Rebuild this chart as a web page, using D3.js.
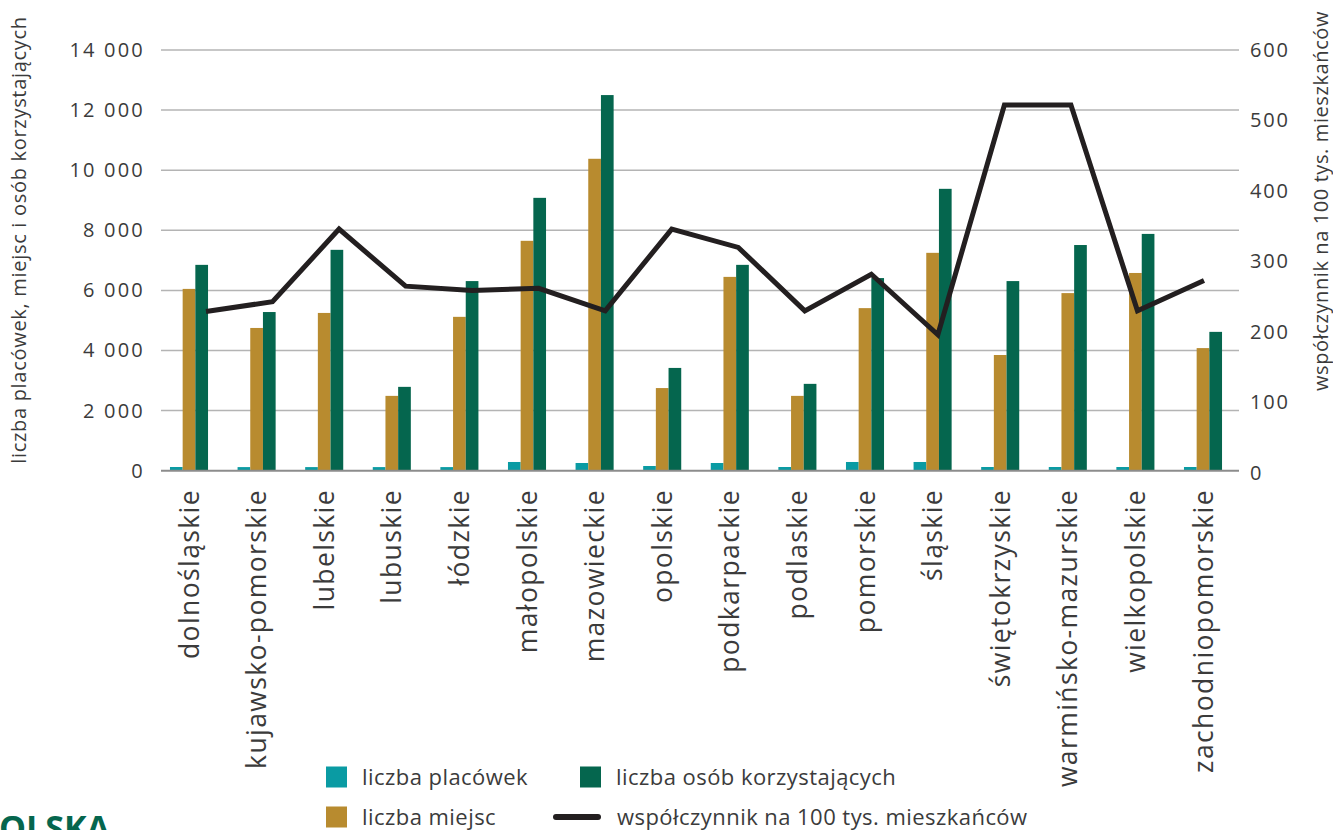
<!DOCTYPE html>
<html lang="pl">
<head>
<meta charset="utf-8">
<script src="https://cdn.jsdelivr.net/npm/d3@7/dist/d3.min.js"></script>
<style>
  html, body { margin: 0; padding: 0; background: #fff; }
  svg { display: block; }
  text { font-family: "Open Sans", "Noto Sans", sans-serif; fill: #3b3b3b; }
</style>
</head>
<body>
<svg id="chart" width="1333" height="830"></svg>
<script>
// Województwa
const regions = [
  "dolnośląskie", "kujawsko-pomorskie", "lubelskie", "lubuskie", "łódzkie",
  "małopolskie", "mazowieckie", "opolskie", "podkarpackie", "podlaskie",
  "pomorskie", "śląskie", "świętokrzyskie", "warmińsko-mazurskie",
  "wielkopolskie", "zachodniopomorskie"
];

// liczba placówek
const placowki = [123, 120, 120, 120, 120, 290, 256, 156, 256, 123, 290, 290, 123, 123, 123, 123];
// liczba miejsc
const miejsca = [6050, 4750, 5250, 2490, 5120, 7650, 10380, 2750, 6450, 2490, 5410, 7250, 3850, 5910, 6580, 4080];
// liczba osób korzystających
const osoby = [6850, 5280, 7350, 2790, 6310, 9080, 12500, 3420, 6850, 2890, 6410, 9380, 6310, 7510, 7880, 4620];
// współczynnik na 100 tys. mieszkańców
const wspolczynnik = [229, 243, 346, 265, 259, 262, 230, 346, 320, 230, 282, 196, 522, 522, 230, 273];

const leftTicks = [0, 2000, 4000, 6000, 8000, 10000, 12000, 14000];
const rightTicks = [0, 100, 200, 300, 400, 500, 600];

const seriesNames = ["liczba placówek", "liczba miejsc", "liczba osób korzystających"];
const seriesColors = ["#0a9ba3", "#b88b2f", "#05664e"];
const lineName = "współczynnik na 100 tys. mieszkańców";
const lineColor = "#231f20";

const svg = d3.select("#chart");

// plot area
const gridX0 = 161, gridX1 = 1239;
const yLeft = d3.scaleLinear().domain([0, 14000]).range([470.7, 50]);
const yRight = d3.scaleLinear().domain([0, 600]).range([473, 50]);

const x = d3.scaleBand().domain(regions).range([155.2, 1236.8])
  .paddingInner(0.437).paddingOuter(0.2185);
const xInner = d3.scaleBand().domain([0, 1, 2]).range([0, x.bandwidth()]);
const xLine = d3.scalePoint().domain(regions).range([206, 1204]);

// gridlines
svg.append("g")
  .selectAll("line")
  .data(leftTicks.filter(d => d > 0))
  .join("line")
  .attr("x1", gridX0).attr("x2", gridX1)
  .attr("y1", d => yLeft(d)).attr("y2", d => yLeft(d))
  .attr("stroke", "#b4b4b4").attr("stroke-width", 1.5);

// bars
const table = regions.map((r, i) => ({ region: r, values: [placowki[i], miejsca[i], osoby[i]] }));
svg.append("g")
  .selectAll("g")
  .data(table)
  .join("g")
  .attr("transform", d => `translate(${x(d.region)},0)`)
  .selectAll("rect")
  .data(d => d.values.map((v, k) => ({ v, k })))
  .join("rect")
  .attr("x", d => xInner(d.k))
  .attr("width", xInner.bandwidth())
  .attr("y", d => yLeft(d.v))
  .attr("height", d => yLeft(0) - yLeft(d.v))
  .attr("fill", d => seriesColors[d.k]);

// baseline
svg.append("line")
  .attr("x1", gridX0).attr("x2", gridX1)
  .attr("y1", yLeft(0)).attr("y2", yLeft(0))
  .attr("stroke", "#8c8c8c").attr("stroke-width", 2);

// line series
svg.append("path")
  .datum(wspolczynnik)
  .attr("fill", "none")
  .attr("stroke", lineColor)
  .attr("stroke-width", 5)
  .attr("stroke-linejoin", "miter")
  .attr("d", d3.line().x((d, i) => xLine(regions[i])).y(d => yRight(d)));

// left axis
const leftAxis = d3.axisLeft(yLeft).tickValues(leftTicks).tickSize(0).tickPadding(0)
  .tickFormat(d => d3.format(",")(d).replace(/,/g, " "));
const gl = svg.append("g").attr("transform", "translate(145,0)").call(leftAxis);
gl.select(".domain").remove();
gl.selectAll("text")
  .style("font-size", "20px")
  .style("letter-spacing", "2.2px")
  .attr("fill", "#3b3b3b");

// right axis
const rightAxis = d3.axisRight(yRight).tickValues(rightTicks).tickSize(0).tickPadding(0);
const gr = svg.append("g").attr("transform", "translate(1250,0)").call(rightAxis);
gr.select(".domain").remove();
gr.selectAll("text")
  .style("font-size", "20px")
  .style("letter-spacing", "1.8px")
  .attr("fill", "#3b3b3b");

// category labels
const bottomAxis = d3.axisBottom(x).tickSize(0).tickPadding(0);
const gb = svg.append("g").attr("transform", "translate(0,489)").call(bottomAxis);
gb.select(".domain").remove();
gb.selectAll("text")
  .style("font-size", "26.5px")
  .style("letter-spacing", "1.4px")
  .attr("fill", "#3b3b3b")
  .attr("text-anchor", "end")
  .attr("dy", "0.36em")
  .attr("y", 0)
  .attr("transform", "rotate(-90)");

// axis titles
svg.append("text")
  .attr("transform", "translate(26,240) rotate(-90)")
  .attr("text-anchor", "middle")
  .style("font-size", "20px")
  .style("letter-spacing", "0.7px")
  .text("liczba placówek, miejsc i osób korzystających");

svg.append("text")
  .attr("transform", "translate(1328,201) rotate(-90)")
  .attr("text-anchor", "middle")
  .style("font-size", "20px")
  .style("letter-spacing", "0.6px")
  .text("współczynnik na 100 tys. mieszkańców");

// legend
const legend = svg.append("g").style("font-size", "22px").style("letter-spacing", "0.45px");
const legendItems = [
  { name: seriesNames[0], color: seriesColors[0], type: "rect", lx: 326, ly: 777 },
  { name: seriesNames[2], color: seriesColors[2], type: "rect", lx: 580, ly: 777 },
  { name: seriesNames[1], color: seriesColors[1], type: "rect", lx: 326, ly: 817 },
  { name: lineName, color: lineColor, type: "line", lx: 553, ly: 817 }
];
legendItems.forEach(it => {
  if (it.type === "rect") {
    legend.append("rect").attr("x", it.lx).attr("y", it.ly - 10.5)
      .attr("width", 21).attr("height", 21).attr("fill", it.color);
    legend.append("text").attr("x", it.lx + 36).attr("y", it.ly).attr("dy", "0.35em").text(it.name);
  } else {
    legend.append("line").attr("x1", it.lx + 3).attr("x2", it.lx + 45)
      .attr("y1", it.ly).attr("y2", it.ly)
      .attr("stroke", it.color).attr("stroke-width", 6).attr("stroke-linecap", "round");
    legend.append("text").attr("x", it.lx + 64).attr("y", it.ly).attr("dy", "0.35em").text(it.name);
  }
});

// logo fragment
svg.append("text")
  .attr("x", 110).attr("y", 840)
  .attr("text-anchor", "end")
  .style("font-size", "34px")
  .style("font-weight", "700")
  .style("fill", "#05664e")
  .text("POLSKA");
</script>
</body>
</html>
